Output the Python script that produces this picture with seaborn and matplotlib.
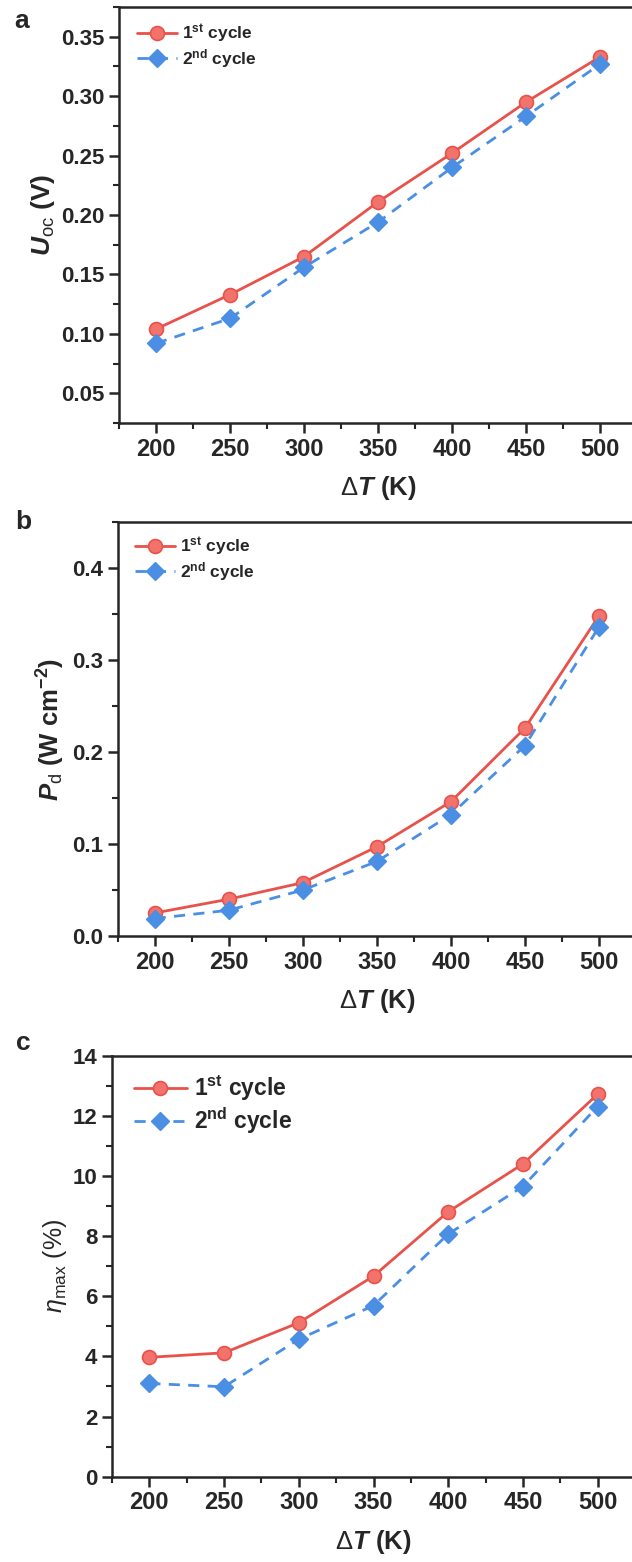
import matplotlib
matplotlib.use("Agg")
import matplotlib.pyplot as plt
import seaborn as sns
from matplotlib.ticker import MultipleLocator

# data
delta_t = [200, 250, 300, 350, 400, 450, 500]
uoc_1st = [0.104, 0.133, 0.165, 0.211, 0.252, 0.295, 0.333]
uoc_2nd = [0.092, 0.113, 0.156, 0.194, 0.240, 0.283, 0.327]
pd_1st = [0.025, 0.040, 0.058, 0.097, 0.146, 0.226, 0.348]
pd_2nd = [0.019, 0.028, 0.050, 0.081, 0.132, 0.207, 0.336]
eta_1st = [3.97, 4.12, 5.12, 6.67, 8.81, 10.40, 12.72]
eta_2nd = [3.10, 2.99, 4.57, 5.69, 8.07, 9.65, 12.31]
cycle_labels = [r"1$^{\mathrm{st}}$ cycle", r"2$^{\mathrm{nd}}$ cycle"]

RED = "#E8524A"
RED_FACE = "#F2736B"
BLUE = "#4A8FE3"

sns.set_style("ticks")
plt.rcParams.update({
    "font.family": ["Liberation Sans", "DejaVu Sans"],
    "font.weight": "bold",
    "mathtext.fontset": "custom",
    "mathtext.rm": "Liberation Sans:bold",
    "mathtext.it": "Liberation Sans:bold:italic",
    "mathtext.bf": "Liberation Sans:bold",
    "mathtext.sf": "Liberation Sans:normal",
    "mathtext.cal": "Liberation Sans:italic:normal",
    "axes.linewidth": 1.8,
})

W, H = 632, 1562
fig = plt.figure(figsize=(W / 100, H / 100), dpi=100)


def add_axes(left, right, top, bottom):
    return fig.add_axes([left / W, 1 - bottom / H, (right - left) / W, (bottom - top) / H])


def draw_panel(ax, y1, y2, ylim, major, minor, ylabel, ylab_x, ylab_size, leg_xy, leg_size,
               leg_space, hlen, ylab_weight="bold"):
    sns.lineplot(x=delta_t, y=y1, ax=ax, color=RED, linewidth=2, marker="o",
                 markersize=10, markerfacecolor=RED_FACE, markeredgecolor=RED,
                 markeredgewidth=1.2, label=cycle_labels[0])
    sns.lineplot(x=delta_t, y=y2, ax=ax, color=BLUE, linewidth=2, linestyle=(0, (4, 3)),
                 marker="D", markersize=9, markerfacecolor=BLUE, markeredgecolor=BLUE,
                 markeredgewidth=1, label=cycle_labels[1])
    ax.set_xlim(175, 525)
    ax.set_ylim(*ylim)
    ax.xaxis.set_major_locator(MultipleLocator(50))
    ax.xaxis.set_minor_locator(MultipleLocator(25))
    ax.yaxis.set_major_locator(MultipleLocator(major))
    ax.yaxis.set_minor_locator(MultipleLocator(minor))
    ax.tick_params(which="both", direction="out", top=False, right=False)
    ax.tick_params(axis="x", labelsize=17)
    ax.tick_params(axis="y", labelsize=16)
    ax.tick_params(which="major", length=7, width=1.8, pad=3.5)
    ax.tick_params(which="minor", length=4, width=1.5)
    ax.spines["right"].set_visible(False)
    ax.set_xlabel(r"$\mathsf{\Delta}T$ (K)", fontsize=18.5, fontweight="bold")
    ax.xaxis.set_label_coords(0.5, -0.122)
    ax.xaxis.label.set_va("top")
    ax.set_ylabel(ylabel, fontsize=ylab_size, fontweight=ylab_weight)
    ax.yaxis.set_label_coords(ylab_x, 0.5)
    ax.legend(loc="upper left", bbox_to_anchor=leg_xy, frameon=False,
              prop={"size": leg_size, "weight": "bold"}, borderpad=0, borderaxespad=0,
              handlelength=hlen, handletextpad=0.3, labelspacing=leg_space, numpoints=1)


ax_a = add_axes(119, 637, 7, 423)
draw_panel(ax_a, uoc_1st, uoc_2nd, (0.025, 0.375), 0.05, 0.025,
           r"$U_{\mathsf{oc}}$ (V)", -0.12, 19, (0.035, 0.963), 12.5, 0.12, 2.3)

ax_b = add_axes(117.7, 636, 522, 936)
draw_panel(ax_b, pd_1st, pd_2nd, (0, 0.45), 0.1, 0.05,
           r"$P_{\mathsf{d}}$ (W cm$^{\mathrm{-2}}$)", -0.098, 18.5, (0.033, 0.968), 12.5, 0.12, 2.3)

ax_c = add_axes(112, 635, 1055.7, 1476.7)
draw_panel(ax_c, eta_1st, eta_2nd, (0, 14), 2, 1,
           r"$\mathcal{\eta}_{\mathsf{max}}$ (%)", -0.082, 18, (0.042, 0.958), 16.5, 0.1, 2.3,
           ylab_weight="normal")

for letter, (lx, ly) in zip("abc", [(22, 21), (23, 522), (23, 1043)]):
    fig.text(lx / W, 1 - ly / H, letter, fontsize=19, fontweight="bold",
             ha="center", va="center")

fig.savefig("out.png", dpi=100)
